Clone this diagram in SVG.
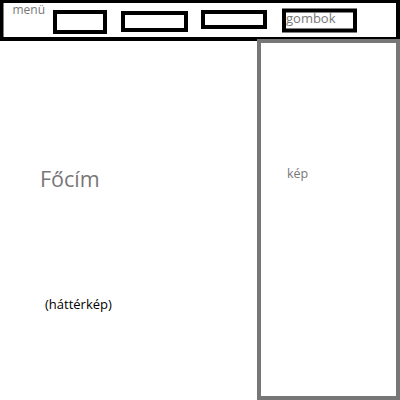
<svg xmlns="http://www.w3.org/2000/svg" width="400" height="400" viewBox="0 0 400 400">
<style>
.bar{fill:#fff;stroke:#000;stroke-width:4}
.btn{fill:#fff;stroke:#000;stroke-width:4}
.panel{fill:#fff;stroke:#777;stroke-width:4}
.t{font-family:"Open Sans","Noto Sans",sans-serif;fill:#777}
.d{font-family:"Open Sans","Noto Sans",sans-serif;fill:#000}
</style>
<rect width="400" height="400" fill="#fff"/>
<g id="menu">
<rect class="bar" x="1.5" y="1" width="396.5" height="38"/>
<text class="t" x="12.5" y="13.5" font-size="12">menü</text>
</g>
<g id="btn1"><rect class="btn" x="55" y="12" width="50" height="20"/></g>
<g id="btn2"><rect class="btn" x="123" y="13" width="63" height="17"/></g>
<g id="btn3"><rect class="btn" x="203" y="12" width="62" height="15"/></g>
<g id="gombok">
<rect class="btn" x="284" y="10.5" width="71" height="20"/>
<text class="t" x="286" y="22.5" font-size="13">gombok</text>
</g>
<g id="kep">
<rect class="panel" x="259" y="41" width="139" height="357"/>
<text class="t" x="287" y="177.5" font-size="12.5">kép</text>
</g>
<g id="focim"><text class="t" x="40" y="187" font-size="21.5">Főcím</text></g>
<g id="hatterkep"><text class="d" x="45" y="309" font-size="13">(háttérkép)</text></g>
<g id="connectors"/>
</svg>
